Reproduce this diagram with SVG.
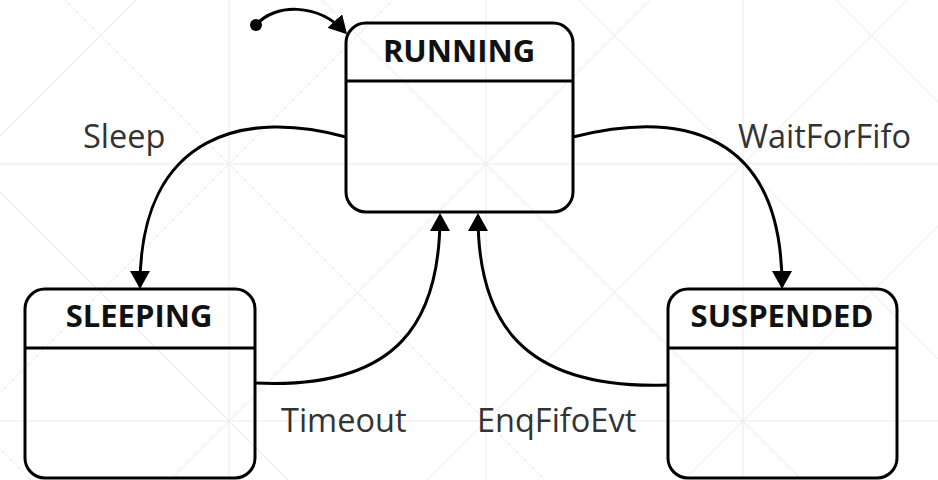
<svg xmlns="http://www.w3.org/2000/svg" width="938" height="480" viewBox="0 0 938 480">
  <defs>
    <style>
      .grid line { stroke: #ebebeb; stroke-width: 1; }
      .state rect { fill: none; stroke: #000; stroke-width: 3; }
      .state line { stroke: #000; stroke-width: 3; }
      .name { font-family: "Open Sans", "Liberation Sans", sans-serif; font-weight: bold; font-size: 31px; fill: #111; text-anchor: middle; }
      .edge { fill: none; stroke: #000; stroke-width: 3; marker-end: url(#arrow); }
      .label { font-family: "Open Sans", "Liberation Sans", sans-serif; font-size: 32.5px; fill: #333; }
    </style>
    <marker id="arrow" markerUnits="userSpaceOnUse" markerWidth="18" markerHeight="20" viewBox="0 0 18 20" refX="15" refY="10" orient="auto">
      <path d="M0,0 L18,10 L0,20 z" fill="#000"/>
    </marker>
  </defs>

  <rect width="938" height="480" fill="#fff"/>

  <!-- faint background grid with diagonals -->
  <g class="grid">
    <line x1="229" y1="0" x2="229" y2="480"/>
    <line x1="486" y1="0" x2="486" y2="480"/>
    <line x1="743" y1="0" x2="743" y2="480"/>
    <line x1="0" y1="164" x2="938" y2="164"/>
    <line x1="0" y1="421" x2="938" y2="421"/>
    <line x1="-549" y1="-100" x2="151" y2="600"/>
    <line x1="-292" y1="-100" x2="408" y2="600"/>
    <line x1="-35" y1="-100" x2="665" y2="600"/>
    <line x1="222" y1="-100" x2="922" y2="600"/>
    <line x1="479" y1="-100" x2="1179" y2="600"/>
    <line x1="736" y1="-100" x2="1436" y2="600"/>
    <line x1="236" y1="-100" x2="-464" y2="600"/>
    <line x1="493" y1="-100" x2="-207" y2="600"/>
    <line x1="750" y1="-100" x2="50" y2="600"/>
    <line x1="1007" y1="-100" x2="307" y2="600"/>
    <line x1="1264" y1="-100" x2="564" y2="600"/>
    <line x1="1521" y1="-100" x2="821" y2="600"/>
  </g>

  <!-- states -->
  <g id="running" class="state">
    <rect x="346" y="23" width="227" height="189" rx="20" ry="20"/>
    <line x1="346" y1="81" x2="573" y2="81"/>
    <text class="name" x="459" y="62">RUNNING</text>
  </g>
  <g id="sleeping" class="state">
    <rect x="25" y="289" width="230" height="189" rx="20" ry="20"/>
    <line x1="25" y1="348" x2="255" y2="348"/>
    <text class="name" x="139" y="327">SLEEPING</text>
  </g>
  <g id="suspended" class="state">
    <rect x="668" y="289" width="229" height="189" rx="20" ry="20"/>
    <line x1="668" y1="348" x2="897" y2="348"/>
    <text class="name" x="782" y="327">SUSPENDED</text>
  </g>

  <!-- transitions -->
  <g id="connectors">
    <circle cx="256" cy="25" r="6" fill="#000"/>
    <path class="edge" d="M256,25 C275,3 318,3 345,32"/>
    <path class="edge" d="M346,137 C250,110 140,130 140,286"/>
    <path class="edge" d="M573,137 C680,110 782,130 782,286"/>
    <path class="edge" d="M255,383 C400,390 440,320 440,216"/>
    <path class="edge" d="M668,385 C520,390 478,320 478,216"/>
  </g>

  <!-- transition labels -->
  <g id="labels">
    <text class="label" x="83" y="148">Sleep</text>
    <text class="label" x="738" y="148">WaitForFifo</text>
    <text class="label" x="281" y="432">Timeout</text>
    <text class="label" x="477" y="432">EnqFifoEvt</text>
  </g>
</svg>
